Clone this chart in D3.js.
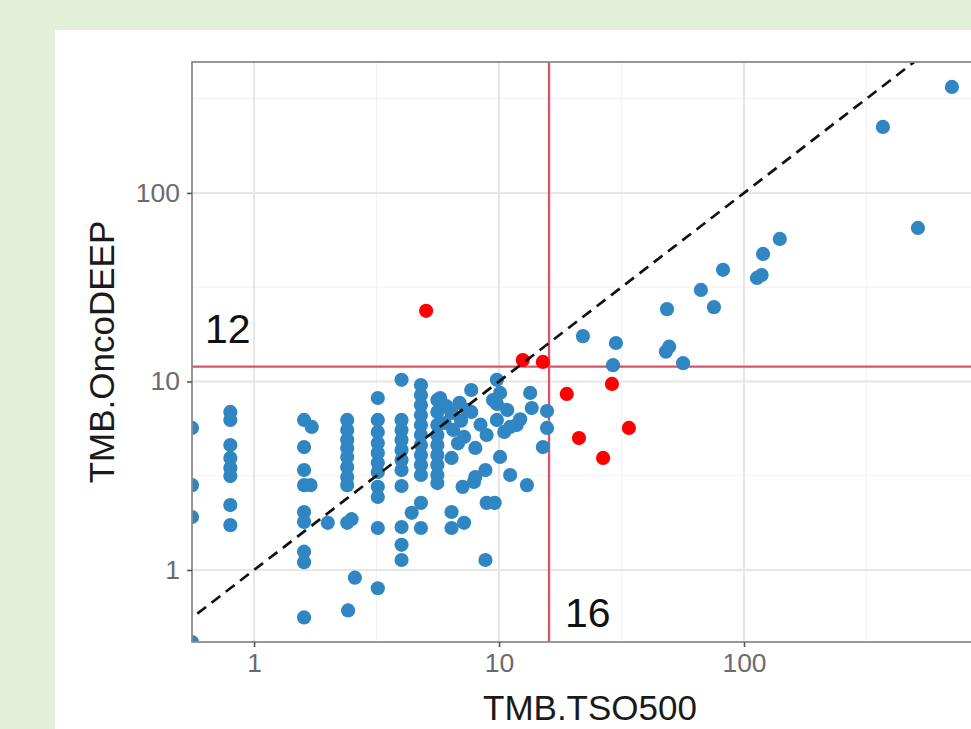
<!DOCTYPE html>
<html>
<head>
<meta charset="utf-8">
<script src="https://cdn.jsdelivr.net/npm/d3@7"></script>
<style>
  html, body { margin: 0; padding: 0; background: #e2efd9; }
  svg { display: block; }
  text { font-family: "Liberation Sans", Arial, Helvetica, sans-serif; }
</style>
</head>
<body>
<svg id="chart" width="971" height="729"></svg>
<script>
// ---------------- data ----------------
const xTicks = [1, 10, 100];
const yTicks = [1, 10, 100];
const xMinor = [3.162, 31.62, 316.2];
const yMinor = [3.162, 31.62, 316.2];
const xCut = 16;
const yCut = 12;

// concordant samples (blue)
const blueX = [
  0.558, 0.558, 0.558, 0.558,
  0.8, 0.8, 0.8, 0.8, 0.8, 0.8, 0.8, 0.8,
  1.6, 1.6, 1.6, 1.6, 1.6, 1.6, 1.6, 1.6, 1.6, 1.72, 1.7, 2.0,
  2.4, 2.4, 2.4, 2.4, 2.4, 2.4, 2.4, 2.4, 2.4, 2.5, 2.58, 2.42,
  3.2, 3.2, 3.2, 3.2, 3.2, 3.2, 3.2, 3.2, 3.2, 3.2, 3.2,
  4.0, 4.0, 4.0, 4.0, 4.0, 4.0, 4.0, 4.0, 4.0, 4.0, 4.0,
  4.8, 4.8, 4.8, 4.8, 4.8, 4.8, 4.8, 4.8, 4.8, 4.8, 4.8, 4.8, 4.4,
  5.6, 5.6, 5.6, 5.6, 5.6, 5.6, 5.6, 5.6, 5.6, 5.75,
  6.4, 6.5, 6.4, 6.4, 6.4, 6.0,
  7.2, 8.0, 7.7, 7.7, 7.1, 8.0, 8.8, 7.2, 7.9, 7.4,
  9.8, 10.1, 9.45, 9.8, 10.8, 11.1, 11.8, 13.4, 13.6, 10.1, 11.1, 13.0, 8.9, 9.6, 8.8, 9.8,
  15.7, 15.7, 15.1,
  6.9, 8.4, 8.9, 6.8, 10.5, 12.2, 6.1, 7.0,
  22.0, 30.0, 29.2, 48.5, 49.5, 48.0, 56.4, 66.7, 75.4, 82.1, 113, 118, 119.6, 140, 513, 369, 706
];
const blueY = [
  5.67, 2.82, 1.91, 0.415,
  6.89, 6.25, 4.60, 3.93, 3.48, 3.15, 2.21, 1.73,
  6.25, 4.49, 3.39, 2.82, 2.03, 1.80, 1.25, 1.10, 0.56, 5.74, 2.82, 1.78,
  6.25, 5.53, 4.90, 4.44, 3.98, 3.52, 3.11, 2.82, 1.78, 1.86, 0.91, 0.61,
  8.17, 6.25, 5.40, 4.72, 4.18, 3.70, 3.31, 2.76, 2.44, 1.67, 0.80,
  10.2, 6.25, 5.53, 4.90, 4.33, 3.83, 3.39, 2.79, 1.69, 1.36, 1.13,
  9.58, 8.48, 7.50, 6.64, 5.88, 5.20, 4.60, 4.07, 3.61, 3.19, 2.27, 1.67, 2.01,
  7.97, 6.89, 5.88, 5.20, 4.60, 4.07, 3.61, 3.19, 2.89, 8.17,
  6.81, 5.53, 3.93, 2.03, 1.67, 6.02,
  5.08, 4.44, 9.01, 6.89, 2.76, 3.11, 3.39, 1.78, 2.93, 7.06,
  10.2, 8.69, 7.97, 6.25, 7.06, 5.74, 5.88, 8.69, 7.23, 3.98, 3.19, 2.82, 2.27, 2.27, 1.13, 7.6,
  6.97, 5.67, 4.49,
  7.7, 5.9, 5.2, 4.7, 5.4, 6.3, 7.4, 6.2,
  17.4, 16.0, 12.2, 24.2, 15.3, 14.4, 12.5, 30.6, 24.8, 39.1, 35.4, 36.7, 47.5, 57.0, 65.2, 224, 365
];
// discordant samples (red)
const redX = [12.5, 15.1, 18.9, 28.9, 21.2, 33.9, 26.6, 5.04];
const redY = [13.0, 12.7, 8.59, 9.70, 5.01, 5.67, 3.93, 23.7];

const labelText = ["12", "16"];
const labelX = [0.63, 18.6];
const labelY = [16, 0.5];

// ---------------- layout ----------------
const W = 971, H = 729;
const P = { left: 192, right: 988, top: 62, bottom: 642 };

const svg = d3.select("#chart");
svg.append("rect").attr("width", W).attr("height", H).attr("fill", "#e2efd9");
svg.append("rect").attr("x", 55).attr("y", 30).attr("width", W - 55 + 10).attr("height", H - 30 + 10).attr("fill", "#ffffff");

const x = d3.scaleLog().domain([0.558, 991]).range([P.left, P.right]);
const y = d3.scaleLog().domain([0.415, 495]).range([P.bottom, P.top]);

svg.append("defs").append("clipPath").attr("id", "panel")
  .append("rect").attr("x", P.left).attr("y", P.top)
  .attr("width", P.right - P.left).attr("height", P.bottom - P.top);

const g = svg.append("g").attr("clip-path", "url(#panel)");

// minor grid
g.selectAll(".xmin").data(xMinor).join("line")
  .attr("x1", d => x(d)).attr("x2", d => x(d)).attr("y1", P.top).attr("y2", P.bottom)
  .attr("stroke", "#f2f2f2").attr("stroke-width", 1.2);
g.selectAll(".ymin").data(yMinor).join("line")
  .attr("y1", d => y(d)).attr("y2", d => y(d)).attr("x1", P.left).attr("x2", P.right)
  .attr("stroke", "#f2f2f2").attr("stroke-width", 1.2);
// major grid
g.selectAll(".xmaj").data(xTicks).join("line")
  .attr("x1", d => x(d)).attr("x2", d => x(d)).attr("y1", P.top).attr("y2", P.bottom)
  .attr("stroke", "#e6e6e6").attr("stroke-width", 2);
g.selectAll(".ymaj").data(yTicks).join("line")
  .attr("y1", d => y(d)).attr("y2", d => y(d)).attr("x1", P.left).attr("x2", P.right)
  .attr("stroke", "#e6e6e6").attr("stroke-width", 2);

// threshold lines
g.append("line").attr("x1", x(xCut)).attr("x2", x(xCut)).attr("y1", P.top).attr("y2", P.bottom)
  .attr("stroke", "#d9546a").attr("stroke-width", 2.3);
g.append("line").attr("y1", y(yCut)).attr("y2", y(yCut)).attr("x1", P.left).attr("x2", P.right)
  .attr("stroke", "#d9546a").attr("stroke-width", 2.3);

// points
const blue = blueX.map((v, i) => ({ x: v, y: blueY[i] }));
const red = redX.map((v, i) => ({ x: v, y: redY[i] }));
g.selectAll(".pb").data(blue).join("circle")
  .attr("cx", d => x(d.x)).attr("cy", d => y(d.y)).attr("r", 7.1)
  .attr("fill", "#2f86c2");
g.selectAll(".pr").data(red).join("circle")
  .attr("cx", d => x(d.x)).attr("cy", d => y(d.y)).attr("r", 7.1)
  .attr("fill", "#ff0000");

// identity line
const dom = [0.3, 2000];
g.append("line")
  .attr("x1", x(dom[0])).attr("y1", y(dom[0])).attr("x2", x(dom[1])).attr("y2", y(dom[1]))
  .attr("stroke", "#111").attr("stroke-width", 2.7).attr("stroke-dasharray", "11,7");

// panel border
svg.append("rect").attr("x", P.left).attr("y", P.top)
  .attr("width", P.right - P.left).attr("height", P.bottom - P.top)
  .attr("fill", "none").attr("stroke", "#8c8c8c").attr("stroke-width", 1.8);

// axes
const fmt = d3.format("d");
const xAxis = svg.append("g").attr("transform", `translate(0,${P.bottom})`)
  .call(d3.axisBottom(x).tickValues(xTicks).tickFormat(fmt).tickSize(5).tickPadding(6));
const yAxis = svg.append("g").attr("transform", `translate(${P.left},0)`)
  .call(d3.axisLeft(y).tickValues(yTicks).tickFormat(fmt).tickSize(5).tickPadding(7));
[xAxis, yAxis].forEach(a => {
  a.select(".domain").remove();
  a.selectAll(".tick line").attr("stroke", "#555").attr("stroke-width", 1.6);
  a.selectAll(".tick text").attr("fill", "#6b6b6b").attr("font-size", 26.5)
    .attr("font-family", "\"Liberation Sans\", Arial, sans-serif");
});

// annotations
svg.selectAll(".ann").data(labelText).join("text")
  .attr("x", (d, i) => x(labelX[i])).attr("y", (d, i) => y(labelY[i]))
  .attr("font-size", 41).attr("fill", "#111").text(d => d);

// axis titles
svg.append("text").attr("x", (P.left + P.right) / 2).attr("y", 720)
  .attr("text-anchor", "middle").attr("font-size", 35).attr("fill", "#1a1a1a").text("TMB.TSO500");
svg.append("text").attr("transform", `translate(114,${(P.top + P.bottom) / 2}) rotate(-90)`)
  .attr("text-anchor", "middle").attr("font-size", 35).attr("fill", "#1a1a1a").text("TMB.OncoDEEP");
</script>
</body>
</html>
